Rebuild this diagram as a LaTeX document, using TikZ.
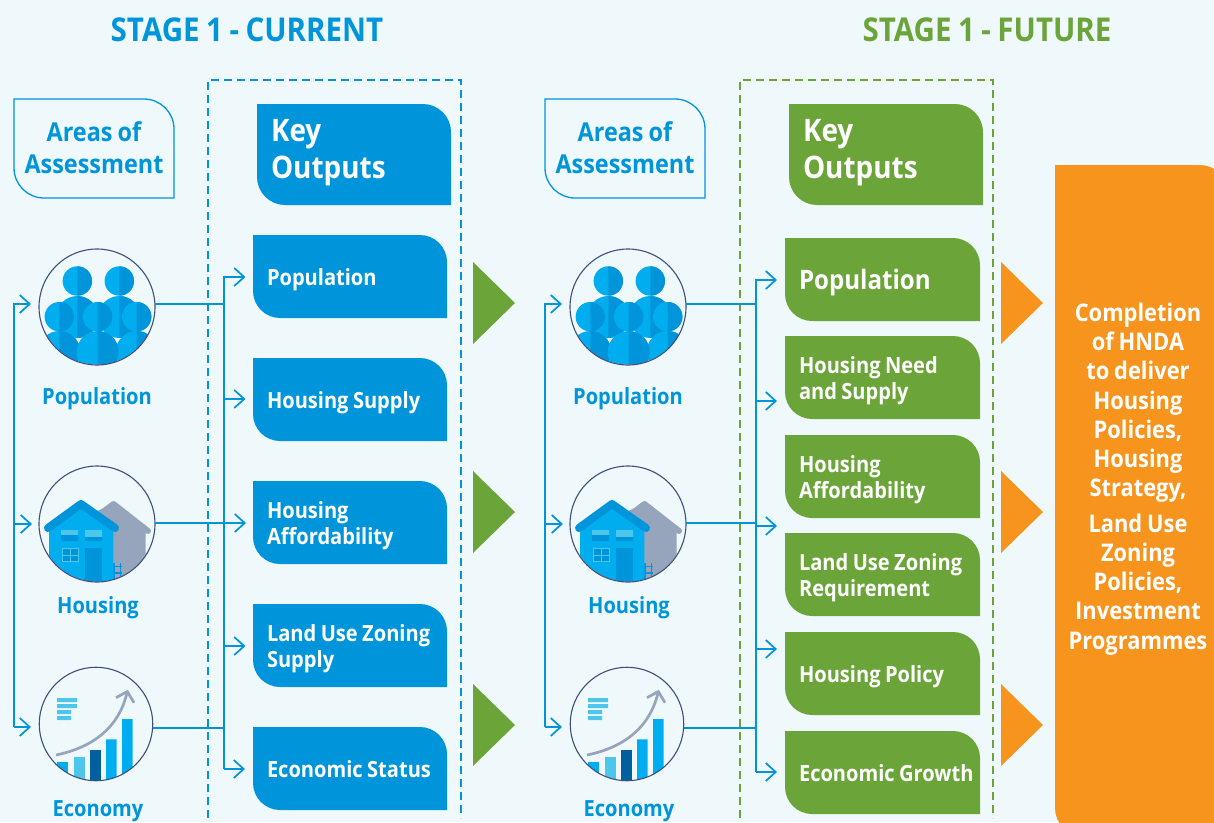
\documentclass[tikz,border=0pt]{standalone}
\usepackage{fontspec}
\setmainfont[FakeStretch=0.9,WordSpace=0.85]{Open Sans}
\usetikzlibrary{arrows.meta,backgrounds}
\definecolor{bg}{HTML}{EFF9FC}
\definecolor{cblue}{HTML}{0095DA}
\definecolor{clight}{HTML}{00AEEF}
\definecolor{cgreen}{HTML}{6BA438}
\definecolor{corange}{HTML}{F7941E}
\definecolor{cring}{HTML}{3D4F7C}
\definecolor{cgrey}{HTML}{96A5BC}
\definecolor{cpale}{HTML}{4DC6EC}
\definecolor{cnavy}{HTML}{00609F}
\newcommand{\fs}[2]{\fontsize{#1}{#2}\selectfont\bfseries}
\newcommand{\ind}{\hspace*{14pt}\rule[-5.2pt]{0pt}{1pt}}
\tikzset{
  x=1pt,y=-1pt,
  conn/.style={draw=cblue,line width=1.7pt},
  connarrow/.style={conn,-{Straight Barb[length=10pt,width=18pt,line width=1.7pt]}},
  blockbox/.style={rectangle,inner xsep=0pt,inner ysep=0pt,align=flush left,text=white,yshift=-3.5pt},
  ring/.style={circle,draw=cring,line width=1.1pt,inner sep=0pt,fill=none},
  title/.style={inner sep=0pt,anchor=base,font=\fs{32.8}{38}},
  areabox/.style={rectangle,inner sep=0pt,align=center,text=cblue,font=\fs{26}{32}},
  iconlabel/.style={inner sep=0pt,anchor=base,text=cblue,font=\fs{22.3}{26}},
  dashbox/.style={line width=1.3pt,dash pattern=on 8pt off 5pt},
}
% shape: #1 style, x1 y1 x2 y2 r
\newcommand{\leafpath}[6]{
  \path[#1] (#2,#3) -- ({#4-#6},#3) .. controls ({#4-.45*#6},#3) and (#4,{#3+.45*#6}) .. (#4,{#3+#6})
    -- (#4,#5) -- ({#2+#6},#5) .. controls ({#2+.45*#6},#5) and (#2,{#5-.45*#6}) .. (#2,{#5-#6}) -- cycle;
}
% name, x1,y1,x2,y2,r,colour,font,text
\newcommand{\leafbox}[9]{
  \node[blockbox,font=#8,minimum width={(#4-#2)*1pt},minimum height={(#5-#3)*1pt},text width={(#4-#2)*1pt}]
    (#1) at ({(#2+#4)/2},{(#3+#5)/2}) {#9};
  \begin{pgfonlayer}{background}\leafpath{fill=#7}{#2}{#3}{#4}{#5}{#6}\end{pgfonlayer}
}
\newcommand{\twotone}[3]{
  \fill[clight] (#1,#2) circle[radius=#3];
  \begin{scope}\clip (#1,{#2-60}) rectangle ({#1+60},{#2+60});\fill[cblue] (#1,#2) circle[radius=#3];\end{scope}
}
\newcommand{\popicon}{
  \begin{scope}
    \clip (97,307) circle[radius=57.5];
    \twotone{77.3}{317}{21}\twotone{119.3}{317}{21}
    \twotone{77.3}{281}{14.7}\twotone{119.3}{281}{14.7}
    \twotone{59.3}{316.7}{14.7}\twotone{97.7}{316.7}{14.7}\twotone{136.7}{316.7}{14.7}
    \twotone{59.3}{352}{21}\twotone{136.7}{352}{21}\twotone{97.7}{352}{21}
  \end{scope}
}
\newcommand{\houseicon}{
  \begin{scope}
    \clip (97,524) circle[radius=57.5];
    \fill[cgrey] (95,512) -- (113.5,504) -- (145.5,530) -- (145.5,590) -- (95,590) -- cycle;
    \draw[cgrey,line width=6pt,line cap=round,line join=round] (95,518) -- (113.5,504) -- (148,531);
    \draw[cblue,line width=1.3pt] (114,563) -- (114,580) (120.7,563) -- (120.7,580) (112,566.7) -- (122,566.7) (112,573) -- (122,573);
    \fill[clight] (49,530) -- (81,507) -- (113.3,530) -- (113.3,590) -- (49,590) -- cycle;
    \draw[cblue,line width=8pt,line cap=round,line join=round] (48,528) -- (81,504) -- (115,528);
    \fill[cpale] (61,530) rectangle (78,535) (85,530) rectangle (102,537);
    \fill[cblue] (61,535) rectangle (78,541) (85,537) rectangle (102,541);
    \draw[cpale,line width=.9pt,fill=cblue] (62.5,548.5) rectangle (78.5,561.5);
    \draw[cpale,line width=.9pt] (70.5,548.5) -- (70.5,561.5) (62.5,555) -- (78.5,555);
    \fill[cblue] (85.3,547.7) rectangle (102,590);
  \end{scope}
}
\newcommand{\ecoicon}{
  \begin{scope}
    \clip (96,724) circle[radius=56.5];
    \fill[cpale] (57,698) rectangle (77,702) (57,704) rectangle (77,708) (57,710) rectangle (71,714) (57,716) rectangle (71,720);
    \fill[clight] (57,762) rectangle (68,790);
    \fill[cpale] (74,757) rectangle (84.7,790);
    \fill[cnavy] (90,749.7) rectangle (100.7,790);
    \fill[clight] (106,739.3) rectangle (116.7,790) (122,719) rectangle (132.7,790);
    \draw[cgrey,line width=2.7pt] (56,755) .. controls (90,748) and (118,730) .. (127,693);
    \draw[cgrey,line width=2.7pt] (116,697.7) -- (127.3,691.5) -- (134,702.7);
  \end{scope}
}
\begin{document}
\begin{tikzpicture}
\useasboundingbox (0,0) rectangle (1214,822);
\clip (0,0) rectangle (1214,822);
\begin{pgfonlayer}{background}\fill[bg] (0,0) rectangle (1214,822);\end{pgfonlayer}

% titles
\node[title,text=cblue] (t1) at (247,41) {STAGE 1 - CURRENT};
\node[title,text=cgreen] (t2) at (987,41) {STAGE 1 - FUTURE};

% dashed frames
\draw[dashbox,draw=cblue] (208,818) -- (208,80) -- (461,80) -- (461,818);
\draw[dashbox,draw=cgreen] (740,818) -- (740,80) -- (993,80) -- (993,818);

% areas of assessment
\node[areabox,minimum width=160pt,minimum height=99pt] (a1) at (94,147.5) {Areas of\\Assessment};
\node[areabox,minimum width=160pt,minimum height=99pt] (a2) at (625,147.5) {Areas of\\Assessment};
\leafpath{draw=cblue,line width=1.3pt}{14}{99}{174}{198}{30}
\leafpath{draw=cblue,line width=1.3pt}{545}{99}{705}{198}{30}

% key outputs headers
\begin{scope}[blockbox/.append style={yshift=5pt}]
\leafbox{k1}{257}{104}{451}{205}{28}{cblue}{\fs{31}{37}}{\ind Key\\\ind Outputs}
\leafbox{k2}{789}{104}{983}{205}{28}{cgreen}{\fs{31}{37}}{\ind Key\\\ind Outputs}
\end{scope}

% stage 1 current outputs
\leafbox{b1}{253}{235}{447}{318}{27}{cblue}{\fs{22.3}{26}}{\ind Population}
\leafbox{b2}{253}{358}{447}{441}{27}{cblue}{\fs{22.3}{26}}{\ind Housing Supply}
\leafbox{b3}{253}{481}{447}{564}{27}{cblue}{\fs{22.3}{26}}{\ind Housing\\\ind Affordability}
\leafbox{b4}{253}{604}{447}{687}{27}{cblue}{\fs{22.3}{26}}{\ind Land Use Zoning\\\ind Supply}
\leafbox{b5}{253}{727}{447}{810}{27}{cblue}{\fs{22.3}{26}}{\ind Economic Status}

% stage 1 future outputs
\leafbox{g1}{785}{238}{980}{321}{27}{cgreen}{\fs{26.8}{32}}{\ind Population}
\leafbox{g2}{785}{336}{980}{419}{27}{cgreen}{\fs{22.3}{26}}{\ind Housing Need\\\ind and Supply}
\leafbox{g3}{785}{435}{980}{518}{27}{cgreen}{\fs{22.3}{26}}{\ind Housing\\\ind Affordability}
\leafbox{g4}{785}{533}{980}{616}{27}{cgreen}{\fs{22.3}{26}}{\ind Land Use Zoning\\\ind Requirement}
\leafbox{g5}{785}{632}{980}{715}{27}{cgreen}{\fs{22.3}{26}}{\ind Housing Policy}
\leafbox{g6}{785}{731}{980}{814}{27}{cgreen}{\fs{22.3}{26}}{\ind Economic Growth}

% triangles
\foreach \yy in {303,512,725}{
  \fill[cgreen] (473,{\yy-41}) -- (515,\yy) -- (473,{\yy+41}) -- cycle;
  \fill[corange] (1001,{\yy-41}) -- (1043,\yy) -- (1001,{\yy+41}) -- cycle;
}

% final box
\begin{pgfonlayer}{background}\leafpath{fill=corange}{1055}{165}{1228}{836}{28}\end{pgfonlayer}
\node[inner sep=0pt,align=center,text=white,font=\fs{24.3}{29.2}] (done) at (1138,479)
  {Completion\\of HNDA\\to deliver\\Housing\\Policies,\\Housing\\Strategy,\\[6.5pt]Land Use\\Zoning\\Policies,\\Investment\\Programmes};

% icons, column 1
\popicon \houseicon \ecoicon
\node[ring,minimum size=116pt] (p1) at (97,307) {};
\node[ring,minimum size=116pt] (h1) at (97,524) {};
\node[ring,minimum size=113.5pt] (e1) at (96,724) {};
\node[iconlabel] (pl1) at (97,404) {Population};
\node[iconlabel] (hl1) at (98,613) {Housing};
\node[iconlabel] (el1) at (98,816) {Economy};
% icons, column 2
\begin{scope}[shift={(531,0)}]
\popicon \houseicon \ecoicon
\node[ring,minimum size=116pt] (p2) at (97,307) {};
\node[ring,minimum size=116pt] (h2) at (97,524) {};
\node[ring,minimum size=113.5pt] (e2) at (96,724) {};
\node[iconlabel] (pl2) at (97,404) {Population};
\node[iconlabel] (hl2) at (98,613) {Housing};
\node[iconlabel] (el2) at (98,816) {Economy};
\end{scope}

% connector anchors, column 1
\coordinate (lb1) at (14,727);
\coordinate (lp1) at (31,304);
\coordinate (lh1) at (32,524);
\coordinate (le1) at (31,727);
\coordinate (lm1) at (14,524);
\coordinate (jp1) at (224,304);
\coordinate (je1) at (224,728);
\coordinate (jb1) at (224,769);
\coordinate (o1) at (245.5,277);
\coordinate (o2) at (245.5,399);
\coordinate (o3) at (246,523);
\coordinate (o4) at (245.5,646);
\coordinate (o5) at (245,769);
\coordinate (s1) at (224,399);
\coordinate (s4) at (224,646);
\coordinate (pr1) at (155,304);
\coordinate (hr1) at (155,523);
\coordinate (er1) at (153,728);

\draw[connarrow] (lb1) |- (lp1);
\draw[connarrow] (lb1) -- (le1);
\draw[connarrow] (lm1) -- (lh1);
\draw[conn] (pr1) -- (jp1);
\draw[conn] (er1) -- (je1);
\draw[connarrow] (hr1) -- (o3);
\draw[connarrow] (jb1) |- (o1);
\draw[connarrow] (jb1) -- (o5);
\draw[connarrow] (s1) -- (o2);
\draw[connarrow] (s4) -- (o4);

% connector anchors, column 2
\coordinate (lb2) at (545,727);
\coordinate (lp2) at (562,304);
\coordinate (lh2) at (563,524);
\coordinate (le2) at (562,727);
\coordinate (lm2) at (545,524);
\coordinate (jp2) at (756,304);
\coordinate (jh2) at (756,523);
\coordinate (je2) at (756,728);
\coordinate (jb2) at (756,772);
\coordinate (q1) at (777,280);
\coordinate (q2) at (777,401);
\coordinate (q3) at (777,526);
\coordinate (q4) at (777,649);
\coordinate (q5) at (777,772);
\coordinate (r2) at (756,401);
\coordinate (r3) at (756,526);
\coordinate (r4) at (756,649);
\coordinate (pr2) at (686,304);
\coordinate (hr2) at (686,523);
\coordinate (er2) at (684,728);

\draw[connarrow] (lb2) |- (lp2);
\draw[connarrow] (lb2) -- (le2);
\draw[connarrow] (lm2) -- (lh2);
\draw[conn] (pr2) -- (jp2);
\draw[conn] (hr2) -- (jh2);
\draw[conn] (er2) -- (je2);
\draw[connarrow] (jb2) |- (q1);
\draw[connarrow] (jb2) -- (q5);
\draw[connarrow] (r2) -- (q2);
\draw[connarrow] (r3) -- (q3);
\draw[connarrow] (r4) -- (q4);
\end{tikzpicture}
\end{document}
